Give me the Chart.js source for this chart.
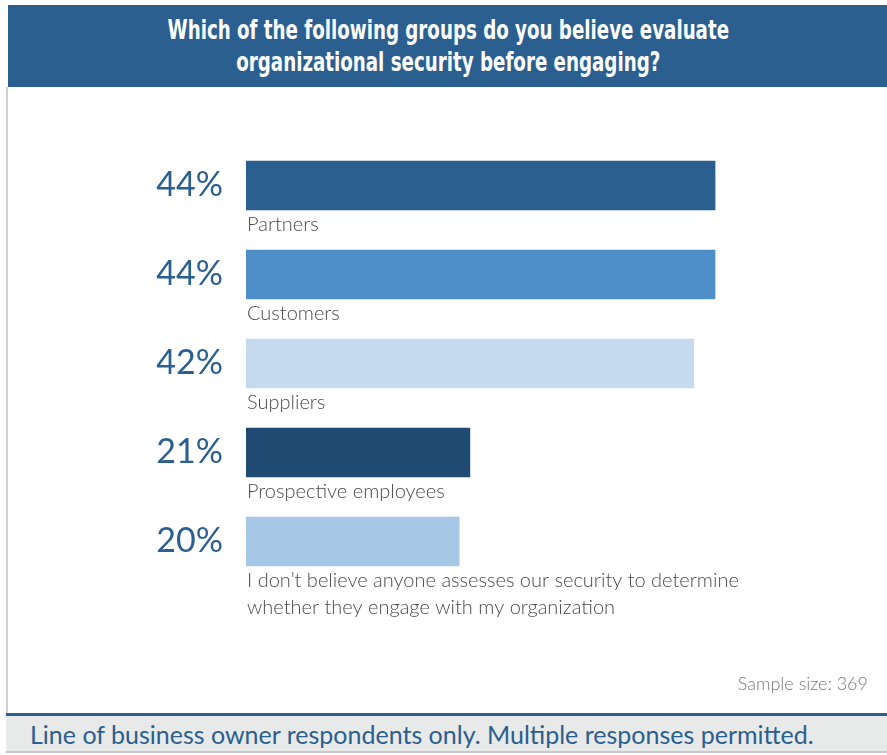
<!DOCTYPE html>
<html>
<head>
<meta charset="utf-8">
<script src="https://cdn.jsdelivr.net/npm/chart.js@4.4.1/dist/chart.umd.min.js"></script>
<style>
  html, body { margin:0; padding:0; background:#fff; width:887px; height:755px; overflow:hidden; }
  #wrap { position:relative; width:887px; height:755px; }
  #header { position:absolute; left:8px; top:5px; width:879px; height:82px; background:#2a5f8f; }
  .tl { position:absolute; left:0; width:879px; text-align:center; color:#fff;
    font-family:"DejaVu Sans Condensed","DejaVu Sans",sans-serif; font-weight:bold; font-size:26px;
    line-height:30px; transform:scaleX(0.78); transform-origin:443px 50%; white-space:nowrap; }
  #lborder { position:absolute; left:6px; top:87px; width:2px; height:626px; background:#d0d0d0; }
  #footline { position:absolute; left:6px; top:713px; width:881px; height:3px; background:#2a5f8f; }
  #footer { position:absolute; left:6px; top:716px; width:881px; height:37px; background:#e8e9e9;
    border-bottom:2px solid #c8c8c8; color:#2a5f8f; font-family:Lato,sans-serif; font-size:25px;
    line-height:37px; padding-left:24px; box-sizing:border-box; }
  #sample { position:absolute; right:19px; top:672px; color:#777; font-family:Lato,sans-serif;
    font-size:18px; font-weight:300; }
  canvas { position:absolute; left:0; top:0; }
</style>
</head>
<body>
<div id="wrap">
  <div id="header">
    <div class="tl" style="top:10px">Which of the following groups do you believe evaluate</div>
    <div class="tl" style="top:42px">organizational security before engaging?</div>
  </div>
  <div id="lborder"></div>
  <canvas id="c" width="887" height="755"></canvas>
  <div id="sample">Sample size: 369</div>
  <div id="footline"></div>
  <div id="footer">Line of business owner respondents only. Multiple responses permitted.</div>
</div>
<script>
const categories = [
  ["Partners"],
  ["Customers"],
  ["Suppliers"],
  ["Prospective employees"],
  ["I don\u2019t believe anyone assesses our security to determine", "whether they engage with my organization"]
];
const values = [44, 44, 42, 21, 20];
const barColors = ["#2a5f8f", "#4e8fca", "#c5daef", "#1f4a72", "#a7c7e6"];

const catLabelPlugin = {
  id: 'catLabels',
  afterDatasetsDraw(chart) {
    const ctx = chart.ctx;
    const meta = chart.getDatasetMeta(0);
    ctx.save();
    ctx.font = '300 20px Lato, sans-serif';
    ctx.fillStyle = '#4a4a4a';
    ctx.textAlign = 'left';
    ctx.textBaseline = 'top';
    meta.data.forEach((bar, i) => {
      const bottom = bar.y + bar.height / 2;
      const left = chart.chartArea.left + 1;
      categories[i].forEach((line, j) => {
        ctx.fillText(line, left, bottom + 5 + j * 27);
      });
    });
    ctx.restore();
  }
};

new Chart(document.getElementById('c'), {
  type: 'bar',
  data: {
    labels: categories.map(c => c.join(' ')),
    datasets: [{
      data: values,
      backgroundColor: barColors,
      borderWidth: 0,
      barThickness: 49
    }]
  },
  options: {
    indexAxis: 'y',
    responsive: false,
    animation: false,
    layout: { padding: { left: 0, right: 108, top: 141, bottom: 169 } },
    plugins: { legend: { display: false }, tooltip: { enabled: false } },
    scales: {
      x: { display: false, min: 0, max: 50 },
      y: {
        afterFit(scale) { scale.width = 246; },
        grid: { display: false },
        border: { display: false },
        ticks: {
          padding: 15,
          color: '#2a5f8f',
          font: { family: 'Lato, sans-serif', size: 34, weight: 400 },
          callback: (v, i) => values[i] + '%'
        }
      }
    }
  },
  plugins: [catLabelPlugin]
});
</script>
</body>
</html>
